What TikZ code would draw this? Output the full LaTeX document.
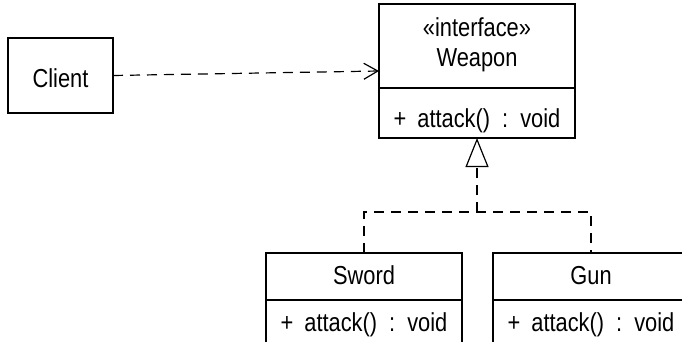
\documentclass[tikz,border=0pt]{standalone}
\usepackage{fontspec}
\setmainfont{Liberation Sans}[FakeStretch=0.84]
\usetikzlibrary{arrows.meta,fit}
\newcommand{\opline}{+\hspace{11pt}attack()\hspace{12pt}:\hspace{12pt}void}
\begin{document}
\begin{tikzpicture}[x=1pt,y=-1pt,
  box/.style={draw=black, line width=1.2pt, rectangle, inner sep=0pt, outer sep=0pt,
    font=\fontsize{26}{30}\selectfont, align=center, text depth=0pt},
  dep/.style={line width=1.2pt, dash pattern=on 10pt off 7pt}]
\useasboundingbox (0,0) rectangle (682,342);

% classes
\node[box, minimum width=105pt, minimum height=75pt, text height=23.6pt]
  (client) at (60.5,75.5) {Client};

\node[box, minimum width=196pt, minimum height=84pt, text height=42pt] (whead) at (477,46)
  {«interface»\\Weapon};
\node[box, minimum width=196pt, minimum height=50pt, text height=30pt] (wops) at (477,113)
  {\opline};
\node[fit=(whead)(wops), inner sep=0pt, outer sep=0pt] (weapon) {};

\node[box, minimum width=196pt, minimum height=47pt, text height=15pt] (shead) at (364,276.5) {Sword};
\node[box, minimum width=196pt, minimum height=44pt, text height=18pt] (sops) at (364,322)
  {\opline};

\node[box, minimum width=196pt, minimum height=47pt, text height=15pt] (ghead) at (591,276.5) {Gun};
\node[box, minimum width=196pt, minimum height=44pt, text height=18pt] (gops) at (591,322)
  {\opline};

% dependency
\draw[dep, -{Straight Barb[length=14pt, width=16pt, line width=1.2pt]}] (client.east) -- (weapon.west);

% realization
\coordinate (junc) at (477,212);
\draw[dep] (shead.north) |- (junc) -| (ghead.north);
\draw[dep, -{Triangle[open, length=29pt, width=23pt, line width=1.2pt, fill=white]}] (junc) -- (wops.south);
\end{tikzpicture}
\end{document}
